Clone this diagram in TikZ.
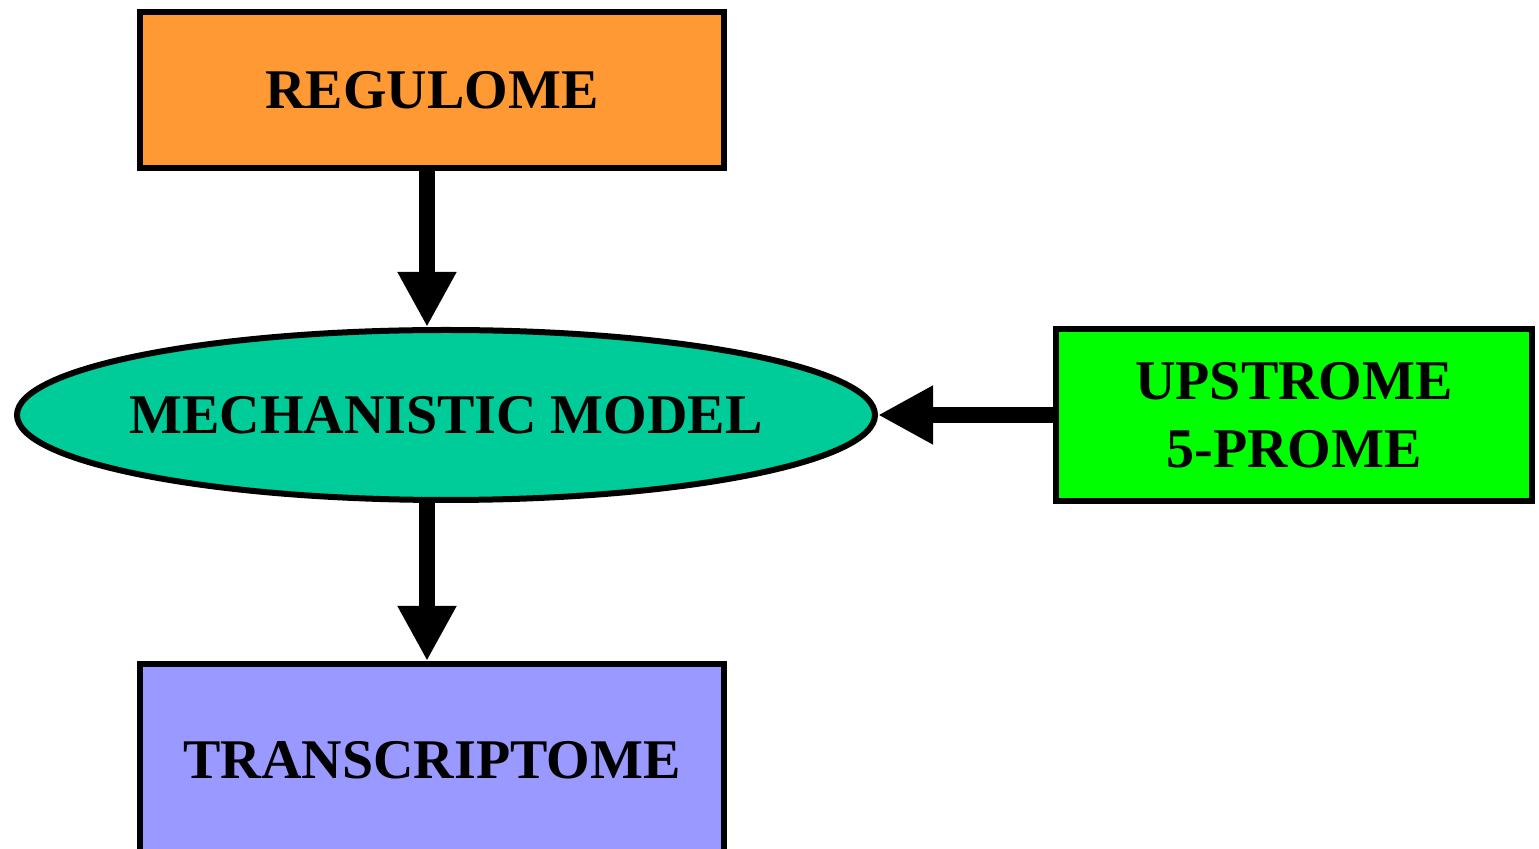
\documentclass[tikz,border=0pt]{standalone}
\usepackage{fontspec}
\setmainfont{Liberation Serif}
\usetikzlibrary{arrows.meta,shapes.geometric}
\definecolor{regc}{HTML}{FF9933}
\definecolor{mechc}{HTML}{00CC99}
\definecolor{upc}{HTML}{00FF00}
\definecolor{trc}{HTML}{9999FF}
\tikzset{
  txt/.style={font=\fontsize{28}{34}\selectfont\bfseries, align=center, inner sep=0pt},
  boxnode/.style={txt, rectangle, line width=3pt, draw=black},
  ellnode/.style={ellipse, inner sep=0pt, line width=3pt, draw=black},
  flow/.style={line width=8pt, -{Triangle[length=27.5pt,width=27.5pt]}},
}
\begin{document}
\begin{tikzpicture}[x=0.5pt,y=-0.5pt]
\useasboundingbox (0,0) rectangle (1539,849);
\clip (0,0) rectangle (1539,849);
\node[boxnode, fill=regc, minimum width=292pt, minimum height=78pt] (reg) at (432,90) {REGULOME};
\node[ellnode, fill=mechc, minimum width=429pt, minimum height=85pt,
      label={[txt]center:MECHANISTIC MODEL}] (mech) at (446,415) {};
\node[boxnode, fill=upc, minimum width=238pt, minimum height=86pt] (ups) at (1294,415) {UPSTROME\\5-PROME};
\node[boxnode, fill=trc, minimum width=292pt, minimum height=96pt] (tr) at (432,760) {TRANSCRIPTOME};
\draw[flow] ([xshift=-2.5pt]reg.south) -- ([xshift=-2.5pt]reg.south |- mech.north);
\draw[flow] ([xshift=-2.5pt]reg.south |- mech.south) -- ([xshift=-2.5pt]tr.north);
\draw[flow] (ups.west) -- (ups.west -| mech.east);
\end{tikzpicture}
\end{document}
